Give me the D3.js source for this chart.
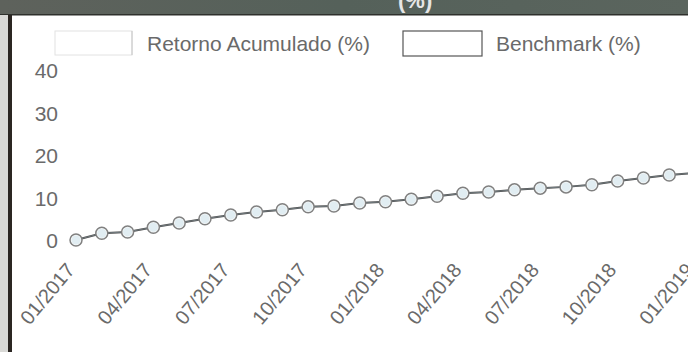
<!DOCTYPE html>
<html>
<head>
<meta charset="utf-8">
<script src="https://cdn.jsdelivr.net/npm/d3@7"></script>
<style>
  html, body { margin: 0; padding: 0; background: #fff; }
  svg { display: block; }
</style>
</head>
<body>
<svg id="chart" width="688" height="352"></svg>
<script>
// ---- data ----
const months = [
  "01/2017","02/2017","03/2017","04/2017","05/2017","06/2017","07/2017","08/2017","09/2017",
  "10/2017","11/2017","12/2017","01/2018","02/2018","03/2018","04/2018","05/2018","06/2018",
  "07/2018","08/2018","09/2018","10/2018","11/2018","12/2018","01/2019"
];
const retornoAcumulado = [0, 1.6, 1.9, 3.0, 4.0, 5.0, 5.9, 6.6, 7.1, 7.8, 8.0, 8.7, 9.0,
  9.6, 10.3, 11.0, 11.3, 11.8, 12.2, 12.5, 13.0, 13.9, 14.6, 15.3, 15.8];
const benchmark = [0, 1.6, 1.9, 3.0, 4.0, 5.0, 5.9, 6.6, 7.1, 7.8, 8.0, 8.7, 9.0,
  9.6, 10.3, 11.0, 11.3, 11.8, 12.2, 12.5, 13.0, 13.9, 14.6, 15.3, 15.8];
const xTickLabels = ["01/2017","04/2017","07/2017","10/2017","01/2018","04/2018","07/2018","10/2018","01/2019"];
const yTicks = [0, 10, 20, 30, 40];
const seriesNames = ["Retorno Acumulado (%)", "Benchmark (%)"];

// ---- drawing ----
const svg = d3.select("#chart");
const W = 688, H = 352;

svg.append("rect").attr("width", W).attr("height", H).attr("fill", "#fff");

// photographed frame: dark band on top, dark edge on the left
const band = svg.append("g");
const grad = svg.append("defs").append("linearGradient").attr("id", "bandGrad")
  .attr("x1", 0).attr("x2", 1).attr("y1", 0).attr("y2", 0);
grad.append("stop").attr("offset", "0%").attr("stop-color", "#5e625c");
grad.append("stop").attr("offset", "50%").attr("stop-color", "#55615a");
grad.append("stop").attr("offset", "100%").attr("stop-color", "#5b655e");
band.append("rect").attr("x", 0).attr("y", 0).attr("width", W).attr("height", 15).attr("fill", "url(#bandGrad)");
band.append("text").attr("x", 398).attr("y", 8)
  .attr("font-family", "Liberation Sans, Arial, sans-serif").attr("font-size", 22).attr("font-weight", "bold")
  .attr("fill", "#e6e6e6").text("(%)");
band.append("rect").attr("x", 0).attr("y", 14).attr("width", W).attr("height", 1.5).attr("fill", "#2e302c");
svg.append("rect").attr("x", 0).attr("y", 15).attr("width", 8).attr("height", H - 15).attr("fill", "#d9d9d6");
svg.append("rect").attr("x", 8).attr("y", 15).attr("width", 4).attr("height", H - 15).attr("fill", "#2b2622");

const font = "Liberation Sans, Arial, Helvetica, sans-serif";
const textColor = "#6a6a6a";

const x = d3.scalePoint().domain(months).range([76, 695]);
const y = d3.scaleLinear().domain([0, 40]).range([240, 70]);

// y axis
const yAxis = d3.axisLeft(y).tickValues(yTicks).tickSize(0).tickPadding(0);
const gy = svg.append("g").attr("transform", "translate(58,0)").call(yAxis);
gy.select(".domain").remove();
gy.selectAll("text").attr("font-family", font).attr("font-size", 21).attr("fill", textColor)
  .attr("dy", "0.36em");

// x axis (rotated labels)
const xAxis = d3.axisBottom(x).tickValues(xTickLabels).tickSize(0).tickPadding(0);
const gx = svg.append("g").attr("transform", "translate(0,0)").call(xAxis);
gx.select(".domain").remove();
gx.selectAll(".tick text")
  .attr("font-family", font).attr("font-size", 20).attr("fill", textColor)
  .attr("text-anchor", "end")
  .attr("y", 0).attr("dy", "0.35em")
  .attr("transform", "translate(-6,266) rotate(-50)");

// lines
const line = d3.line().x((d, i) => x(months[i])).y(d => y(d));
const plot = svg.append("g");

plot.append("path").datum(benchmark).attr("d", line)
  .attr("fill", "none").attr("stroke", "#4a4a4a").attr("stroke-width", 2);
plot.append("path").datum(retornoAcumulado).attr("d", line)
  .attr("fill", "none").attr("stroke", "rgba(190,215,225,0.35)").attr("stroke-width", 1);

plot.selectAll("circle.bench").data(benchmark).join("circle").attr("class", "bench")
  .attr("cx", (d, i) => x(months[i])).attr("cy", d => y(d)).attr("r", 6)
  .attr("fill", "#f6f8f8").attr("stroke", "#808080").attr("stroke-width", 1.5);
plot.selectAll("circle.ret").data(retornoAcumulado).join("circle").attr("class", "ret")
  .attr("cx", (d, i) => x(months[i])).attr("cy", d => y(d)).attr("r", 4.5)
  .attr("fill", "rgba(200,225,235,0.45)").attr("stroke", "none");

// legend
const lg = svg.append("g");
lg.append("rect").attr("x", 55).attr("y", 31).attr("width", 77).attr("height", 24)
  .attr("fill", "#fff").attr("stroke", "#e2e2e2").attr("stroke-width", 1);
lg.append("line").attr("x1", 132).attr("x2", 132).attr("y1", 31).attr("y2", 55)
  .attr("stroke", "#c4c4c4").attr("stroke-width", 1);
lg.append("text").attr("x", 147).attr("y", 51).attr("font-family", font).attr("font-size", 21)
  .attr("fill", textColor).text(seriesNames[0]);
lg.append("rect").attr("x", 403).attr("y", 31).attr("width", 79).attr("height", 25)
  .attr("fill", "#fff").attr("stroke", "#555").attr("stroke-width", 1.2);
lg.append("text").attr("x", 496).attr("y", 51).attr("font-family", font).attr("font-size", 21)
  .attr("fill", textColor).text(seriesNames[1]);
</script>
</body>
</html>
